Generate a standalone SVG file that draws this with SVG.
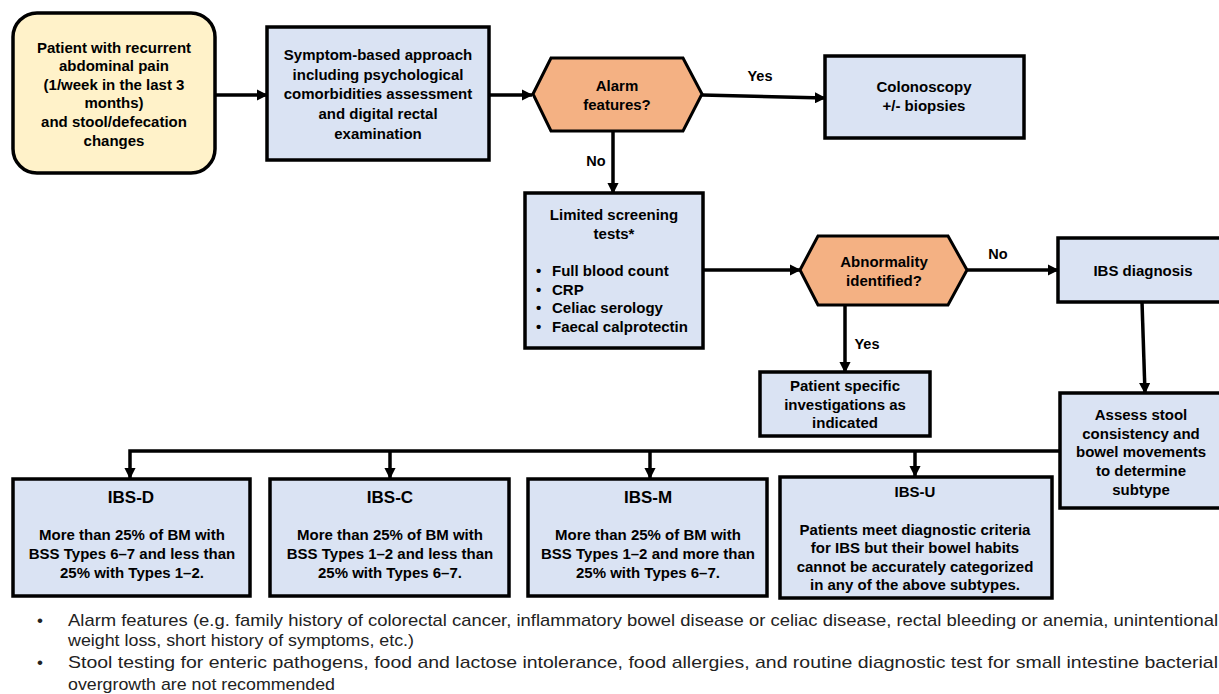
<svg xmlns="http://www.w3.org/2000/svg" width="1219" height="694" viewBox="0 0 1219 694">
<defs>
<style>
.box{fill:#DAE3F3;stroke:#000;stroke-width:3.5}
.start{fill:#FFF2C9;stroke:#000;stroke-width:3.5}
.dec{fill:#F4B183;stroke:#000;stroke-width:3}
text{font-family:"Liberation Sans",Arial,sans-serif;font-weight:bold;font-size:15px;fill:#000;text-anchor:middle}
.title{font-size:17px}
.small{font-size:14px}
.lbl{font-size:14.5px}
.lft{text-anchor:start}
.foot{font-family:"Liberation Sans Narrow","Liberation Sans",Arial,sans-serif;font-weight:normal;font-size:17px;text-anchor:start;fill:#222}
.conn line,.conn polyline{stroke:#000;stroke-width:3.5;fill:none}
</style>
<marker id="ah" viewBox="0 0 10 10" refX="9" refY="5" markerWidth="3.2" markerHeight="3.2" orient="auto" markerUnits="strokeWidth">
<path d="M0,0 L10,5 L0,10 z" fill="#000"/>
</marker>
</defs>
<rect width="1219" height="694" fill="#fff"/>

<g class="conn">
<line x1="215" y1="95" x2="267" y2="95" marker-end="url(#ah)"/>
<line x1="489" y1="95" x2="532" y2="95" marker-end="url(#ah)"/>
<line x1="702" y1="95" x2="825" y2="98" marker-end="url(#ah)"/>
<line x1="613" y1="131" x2="613" y2="193" marker-end="url(#ah)"/>
<line x1="703" y1="270" x2="800" y2="270" marker-end="url(#ah)"/>
<line x1="967" y1="270" x2="1058" y2="270" marker-end="url(#ah)"/>
<line x1="845" y1="305" x2="845" y2="372" marker-end="url(#ah)"/>
<line x1="1142" y1="302" x2="1145" y2="393" marker-end="url(#ah)"/>
<polyline points="1060,451 130,451 130,478" marker-end="url(#ah)"/>
<line x1="390" y1="451" x2="390" y2="478" marker-end="url(#ah)"/>
<line x1="650" y1="451" x2="650" y2="478" marker-end="url(#ah)"/>
<line x1="915" y1="451" x2="915" y2="476" marker-end="url(#ah)"/>
<text class="lbl" x="760" y="81">Yes</text>
<text class="lbl" x="596" y="166">No</text>
<text class="lbl" x="998" y="259">No</text>
<text class="lbl" x="867" y="349">Yes</text>
</g>

<g id="start">
<rect class="start" x="13" y="13" width="202" height="160" rx="24"/>
<text x="114" y="53">Patient with recurrent</text>
<text x="114" y="71">abdominal pain</text>
<text x="114" y="90">(1/week in the last 3</text>
<text x="114" y="108">months)</text>
<text x="114" y="127">and stool/defecation</text>
<text x="114" y="146">changes</text>
</g>

<g id="symptom">
<rect class="box" x="267" y="27" width="222" height="133"/>
<text x="378" y="60">Symptom-based approach</text>
<text x="378" y="80">including psychological</text>
<text x="378" y="99">comorbidities assessment</text>
<text x="378" y="119">and digital rectal</text>
<text x="378" y="139">examination</text>
</g>

<g id="alarm">
<polygon class="dec" points="533,94 551,58 683,58 702,94 683,131 551,131"/>
<text x="617" y="91">Alarm</text>
<text x="617" y="110">features?</text>
</g>

<g id="colonoscopy">
<rect class="box" x="825" y="56" width="199" height="82"/>
<text x="924" y="92">Colonoscopy</text>
<text x="924" y="111">+/- biopsies</text>
</g>

<g id="screening">
<rect class="box" x="525" y="193" width="178" height="155"/>
<text x="614" y="220">Limited screening</text>
<text x="614" y="239">tests*</text>
<text class="lft" x="536" y="276">•</text>
<text class="lft" x="552" y="276">Full blood count</text>
<text class="lft" x="536" y="295">•</text>
<text class="lft" x="552" y="295">CRP</text>
<text class="lft" x="536" y="313">•</text>
<text class="lft" x="552" y="313">Celiac serology</text>
<text class="lft" x="536" y="332">•</text>
<text class="lft" x="552" y="332">Faecal calprotectin</text>
</g>

<g id="abnormality">
<polygon class="dec" points="800,270 818,236 948,236 967,270 948,305 818,305"/>
<text x="884" y="267">Abnormality</text>
<text x="884" y="286">identified?</text>
</g>

<g id="ibsdiag">
<rect class="box" x="1058" y="238" width="166" height="64"/>
<text x="1143" y="276">IBS diagnosis</text>
</g>

<g id="specific">
<rect class="box" x="760" y="372" width="170" height="64"/>
<text x="845" y="391">Patient specific</text>
<text x="845" y="410">investigations as</text>
<text x="845" y="428">indicated</text>
</g>

<g id="assess">
<rect class="box" x="1060" y="393" width="164" height="115"/>
<text x="1141" y="420">Assess stool</text>
<text x="1141" y="439">consistency and</text>
<text x="1141" y="457">bowel movements</text>
<text x="1141" y="476">to determine</text>
<text x="1141" y="495">subtype</text>
</g>

<g id="ibsd">
<rect class="box" x="13" y="479" width="237" height="117"/>
<text class="title" x="131" y="503">IBS-D</text>
<text x="132" y="540">More than 25% of BM with</text>
<text x="132" y="559">BSS Types 6–7 and less than</text>
<text x="132" y="578">25% with Types 1–2.</text>
</g>

<g id="ibsc">
<rect class="box" x="270" y="479" width="239" height="117"/>
<text class="title" x="390" y="503">IBS-C</text>
<text x="390" y="540">More than 25% of BM with</text>
<text x="390" y="559">BSS Types 1–2 and less than</text>
<text x="390" y="578">25% with Types 6–7.</text>
</g>

<g id="ibsm">
<rect class="box" x="528" y="479" width="239" height="117"/>
<text class="title" x="648" y="503">IBS-M</text>
<text x="648" y="540">More than 25% of BM with</text>
<text x="648" y="559">BSS Types 1–2 and more than</text>
<text x="648" y="578">25% with Types 6–7.</text>
</g>

<g id="ibsu">
<rect class="box" x="780" y="477" width="272" height="121"/>
<text x="915" y="497">IBS-U</text>
<text x="915" y="535">Patients meet diagnostic criteria</text>
<text x="915" y="553">for IBS but their bowel habits</text>
<text x="915" y="572">cannot be accurately categorized</text>
<text x="915" y="590">in any of the above subtypes.</text>
</g>

<g id="footnotes">
<text class="foot" x="37" y="626">•</text>
<text class="foot" x="68" y="626" textLength="1150" lengthAdjust="spacingAndGlyphs">Alarm features (e.g. family history of colorectal cancer, inflammatory bowel disease or celiac disease, rectal bleeding or anemia, unintentional</text>
<text class="foot" x="68" y="646" textLength="346" lengthAdjust="spacingAndGlyphs">weight loss, short history of symptoms, etc.)</text>
<text class="foot" x="37" y="668">•</text>
<text class="foot" x="68" y="668" textLength="1150" lengthAdjust="spacingAndGlyphs">Stool testing for enteric pathogens, food and lactose intolerance, food allergies, and routine diagnostic test for small intestine bacterial</text>
<text class="foot" x="68" y="690" textLength="267" lengthAdjust="spacingAndGlyphs">overgrowth are not recommended</text>
</g>
</svg>
